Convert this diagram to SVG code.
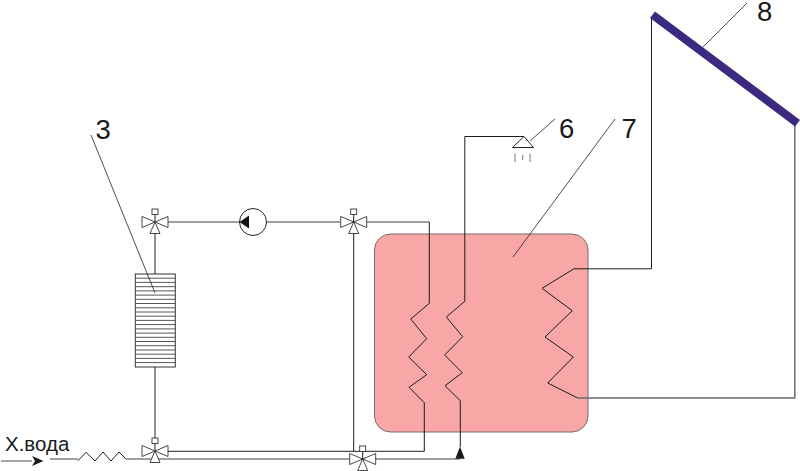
<svg xmlns="http://www.w3.org/2000/svg" width="800" height="471" viewBox="0 0 800 471">
<style>
.p{fill:none;stroke:#1c1c1c;stroke-width:1;stroke-linejoin:miter}
.g{fill:none;stroke:#808080;stroke-width:1.4}
.d{fill:none;stroke:#6a6a6a;stroke-width:1.5}
.v{fill:#fff;stroke:#333;stroke-width:.9}
.l{fill:none;stroke:#222;stroke-width:.8}
text{font-family:"Liberation Sans",Arial,sans-serif;fill:#1a1a1a}
.n{font-size:27.500px}
</style>
<defs>
<g id="valve">
<path class="v" d="M0 0L-13-5.500V5.500Z"/>
<path class="v" d="M0 0L13-5.500V5.500Z"/>
<path class="v" d="M0 0L-5 11.500H5Z"/>
<path class="p" d="M0 0V-7"/>
<rect class="v" x="-3" y="-13" width="6" height="5.500"/>
</g>
</defs>
<rect width="800" height="471" fill="#fff"/>
<g id="tank"><rect x="374.500" y="234" width="213.500" height="198" rx="16" fill="#f9a6a6" stroke="#7a6a6a" stroke-width="1"/></g>
<g id="connectors">
<path class="g" d="M168 222H240M267 222H340M367 222H429"/>
<path class="p" d="M155 233V274M155 367V440M353.700 233V451"/>
<path class="p" d="M168 451.300H424.300V402.700"/>
<path class="g" d="M50 459H78M126 459H460"/>
<path class="g" d="M1 461H32"/>
<path class="p" d="M78 460.700L86 452.300L95 461L103 452L111 461L119 452L126 459"/>
<path class="p" d="M429.300 222V303.300L410.700 319L426.700 338.700L408.700 357L426.700 374.700L409 387.300L424.300 402.700"/>
<path class="p" d="M524 136.500H464.800V301.300L446.300 317L462.700 336.700L444.700 355L462.300 372.700L445 385.700L460.300 400.700V447"/>
<path class="p" d="M651.500 17V268.800H574L542 288.300L572.300 310.700L545 337L573.300 357L547.700 383L577.700 398"/>
<path class="d" d="M794.800 125V398H577.700"/>
</g>
<g id="node-x-voda">
<text x="5" y="451" font-size="20.500">Х.вода</text>
<path fill="#1a1a1a" d="M32 456L43.500 461L32 466L35 461Z"/>
</g>
<g id="node-radiator">
<rect x="135.300" y="274" width="40" height="93" fill="#fff" stroke="#333" stroke-width="1"/>
<path fill="none" stroke="#555" stroke-width="1" d="M135 278.200H175M135 282.400H175M135 286.700H175M135 290.900H175M135 295.100H175M135 299.300H175M135 303.500H175M135 307.800H175M135 312H175M135 316.200H175M135 320.400H175M135 324.600H175M135 328.900H175M135 333.100H175M135 337.300H175M135 341.500H175M135 345.700H175M135 350H175M135 354.200H175M135 358.400H175M135 362.600H175"/>
</g>
<g id="node-valve-1"><use href="#valve" x="155" y="222"/></g>
<g id="node-valve-2"><use href="#valve" x="353.700" y="222"/></g>
<g id="node-valve-3"><use href="#valve" x="155" y="451"/></g>
<g id="node-valve-4"><use href="#valve" x="362.700" y="459"/></g>
<g id="node-pump">
<circle cx="253" cy="222" r="13.500" fill="#fff" stroke="#222" stroke-width="1"/>
<path fill="#111" d="M239.500 222L249 215.500V228.500Z"/>
</g>
<g id="node-return-arrow"><path fill="#1a1a1a" d="M460 446.500L464.700 458.700H455.300Z"/></g>
<g id="node-shower">
<path fill="#fff" stroke="#222" stroke-width="1" d="M524 136.500L533.500 147.500H512.500Z"/>
<path fill="none" stroke="#777" stroke-width="1" d="M515 153.500V162M522.700 155V160M530 153.500V162"/>
</g>
<g id="node-collector"><path fill="#3c2a80" d="M655 11.500L800 120L795 126.500L650 18Z"/></g>
<g id="labels">
<path class="l" d="M91 135L155 293M530 141L555 119M615 119L513 257M747 3L703 47"/>
<text class="n" x="95.500" y="138.500">3</text>
<text class="n" x="559" y="138">6</text>
<text class="n" x="621.500" y="138">7</text>
<text class="n" x="757" y="21">8</text>
</g>
</svg>
